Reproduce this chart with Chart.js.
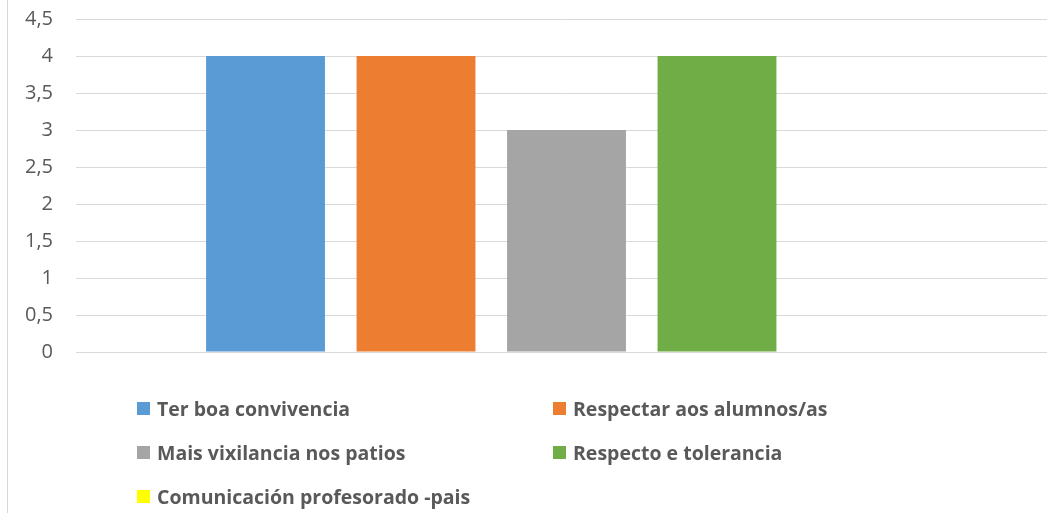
<!DOCTYPE html>
<html>
<head>
<meta charset="utf-8">
<script src="https://cdn.jsdelivr.net/npm/chart.js@4"></script>
<style>
    body { margin: 0; background: #fff; overflow: hidden; }
    #wrap { position: relative; width: 1047px; height: 513px; overflow: hidden; }
    #frame { position: absolute; left: 7px; top: 0; width: 1px; height: 513px; background: #d9d9d9; }
    #chart { position: absolute; left: 0; top: 0; }
    #legend { position: absolute; left: 0; top: 0; width: 1047px; height: 513px; pointer-events: none; }
    .item { position: absolute; display: flex; align-items: center; height: 26px;
            font-family: "Open Sans", Lato, sans-serif; font-weight: bold; font-size: 19.5px; color: #595959; white-space: nowrap; }
    .box { width: 13px; height: 13px; margin-right: 7px; }
</style>
</head>
<body>
<div id="wrap">
    <canvas id="chart" width="1057" height="513"></canvas>
    <div id="frame"></div>
    <div id="legend"></div>
</div>
<script>
// Chart data
const categories = [''];
const seriesNames = ['Ter boa convivencia', 'Respectar aos alumnos/as', 'Mais vixilancia nos patios', 'Respecto e tolerancia', 'Comunicación profesorado -pais'];
const seriesValues = [4, 4, 3, 4, 0];
const seriesColors = ['#5B9BD5', '#ED7D31', '#A5A5A5', '#70AD47', '#FFFF00'];
const yTicks = [0, 0.5, 1, 1.5, 2, 2.5, 3, 3.5, 4, 4.5];

document.addEventListener('DOMContentLoaded', function () {
    initChart();
    buildLegend();
});

function initChart() {
    const ctx = document.getElementById('chart');
    const datasets = seriesNames.map((name, i) => ({
        label: name,
        data: [seriesValues[i]],
        backgroundColor: seriesColors[i],
        categoryPercentage: 0.767,
        barPercentage: 0.79
    }));

    new Chart(ctx, {
        type: 'bar',
        data: { labels: categories, datasets: datasets },
        options: {
            responsive: false,
            animation: false,
            layout: { padding: { top: 19, right: 0, bottom: 153, left: 0 } },
            plugins: {
                legend: { display: false },
                tooltip: { enabled: false }
            },
            scales: {
                x: {
                    grid: { display: false },
                    border: { display: false },
                    ticks: { display: false }
                },
                y: {
                    min: 0,
                    max: 4.5,
                    afterBuildTicks: (scale) => {
                        scale.ticks = yTicks.map(v => ({ value: v }));
                    },
                    afterFit: (scale) => {
                        scale.width = 76;
                        scale.paddingTop = 0;
                        scale.paddingBottom = 0;
                    },
                    grid: { color: '#d9d9d9', lineWidth: 1, drawTicks: false },
                    border: { display: false },
                    ticks: {
                        color: '#595959',
                        padding: 23,
                        font: { family: '"Open Sans", Lato, sans-serif', size: 20 },
                        callback: (v) => String(v).replace('.', ',')
                    }
                }
            }
        }
    });
}

function buildLegend() {
    // two-column legend under the plot
    const legend = document.getElementById('legend');
    const colX = [137, 553];
    const rowY = [408, 452, 496];
    seriesNames.forEach((name, i) => {
        const item = document.createElement('div');
        item.className = 'item';
        item.style.left = colX[i % 2] + 'px';
        item.style.top = (rowY[Math.floor(i / 2)] - 13) + 'px';
        const box = document.createElement('span');
        box.className = 'box';
        box.style.background = seriesColors[i];
        const txt = document.createElement('span');
        txt.textContent = name;
        item.appendChild(box);
        item.appendChild(txt);
        legend.appendChild(item);
    });
}
</script>
</body>
</html>
